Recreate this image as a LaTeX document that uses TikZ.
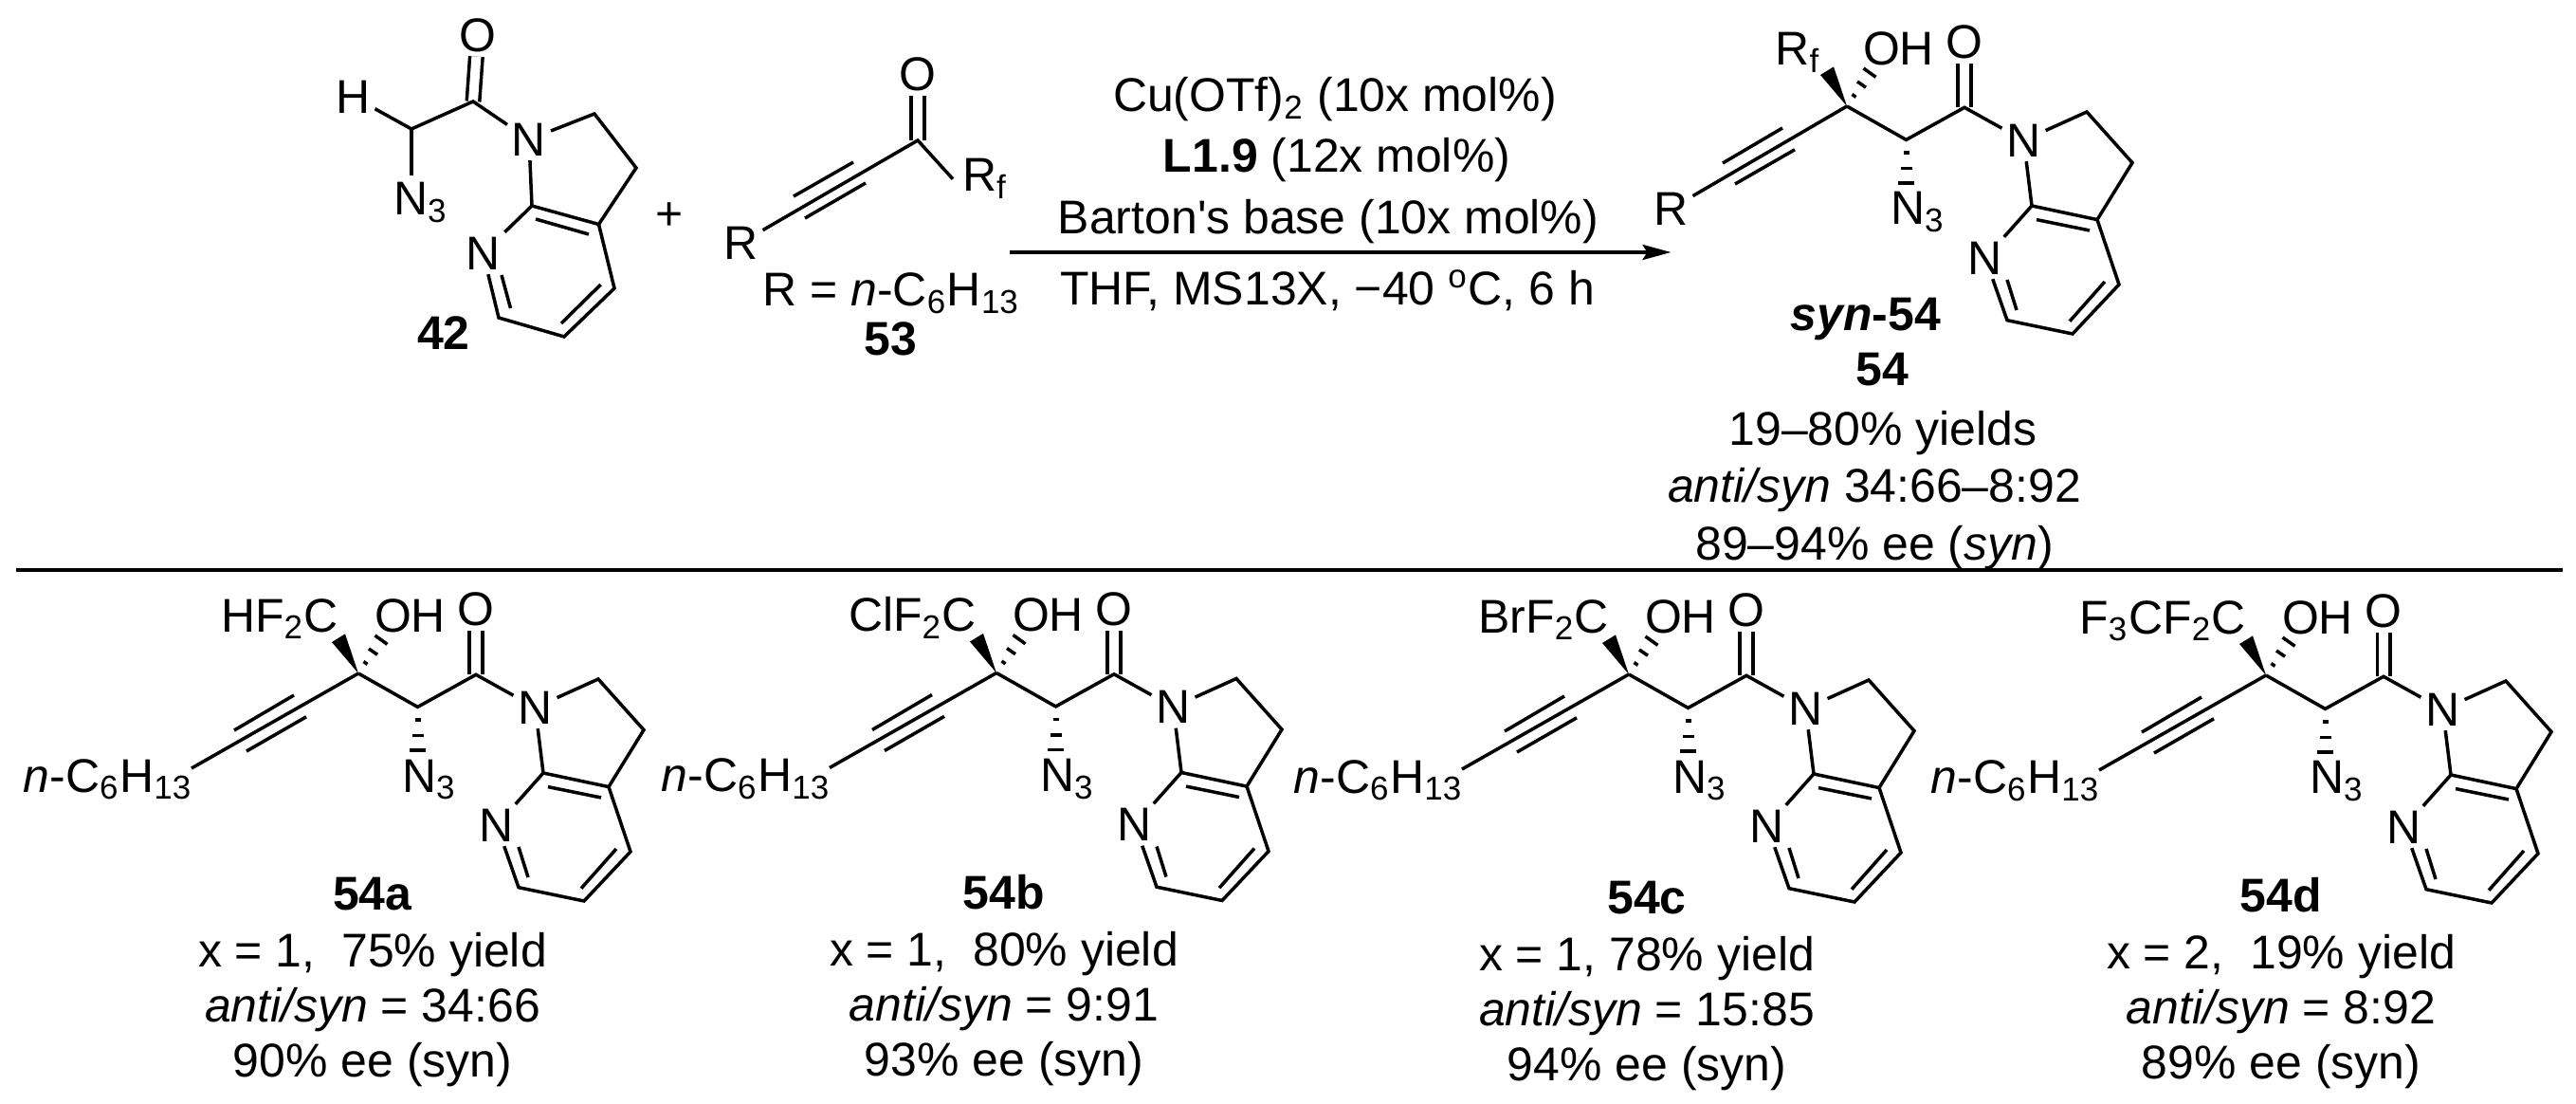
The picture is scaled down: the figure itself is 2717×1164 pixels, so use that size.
\documentclass[tikz,border=0pt]{standalone}
\usepackage{fontspec}
\setmainfont{Liberation Sans}
\usepackage{tikz}
\usetikzlibrary{arrows.meta}
\tikzset{
	atomlab/.style={inner sep=0.05cm,outer sep=0pt},
	txtlab/.style={inner sep=0pt,outer sep=0pt,anchor=base},
	dblbond/.style={double,double distance=0.1cm},
}
% the part shared by the product and 54a-d, drawn round the quaternary carbon
\newcommand{\prodcore}{%
	\coordinate (q) at (0,0);
	\coordinate (ch) at (62.5,35.4);
	\coordinate (ck) at (124,1.3);
	\coordinate (ca) at (253,6);
	\coordinate (cb) at (301,59.6);
	\coordinate (c3a) at (264,119.6);
	\coordinate (c7a) at (195,105);
	\coordinate (c6) at (169,225.7);
	\coordinate (c5) at (238,240);
	\coordinate (c4) at (287,188);
	\node[atomlab] (ox) at (124,-67.6) {O};
	\node[atomlab] (na) at (186.5,36) {N};
	\node[atomlab] (np) at (146,160) {N};
	\node[txtlab,anchor=base west] (naz) at (46,125) {N\textsubscript{3}};
	\node[txtlab,anchor=base west] (oh) at (17,-43.7) {OH};
	\draw[dblbond] (ck) -- (ox);
	\draw (q) -- (ch) -- (ck) -- (na);
	\draw (na) -- (ca) -- (cb) -- (c3a) -- (c7a) -- (na);
	\draw (c7a) -- (np);
	\draw (np) -- (c6) -- (c5) -- (c4) -- (c3a);
	\draw (200,119.6) -- (256,131);
	\draw (169,183) -- (179,215);
	\draw (272,185) -- (235,226.7);
	\draw (-68,23) -- (-131,60);
	\draw (-55,45.8) -- (-118,82);
	\fill (q) -- (-28,-33) -- (-14,-41.6) -- cycle;
	\foreach \ax/\ay/\bx/\by in {5.5/-12.5/9.5/-9.6,11/-26/20/-19.8,17.5/-40/30.5/-30.7}
		\draw (\ax,\ay) -- (\bx,\by);
	\foreach \wd/\yy in {3/49,6/65.5,8.5/81}
		\draw (62.5-\wd,\yy) -- (62.5+\wd,\yy);
}
\begin{document}
\begin{tikzpicture}[x=0.01cm,y=-0.01cm,line width=1pt,node font=\fontsize{14.2}{17}\selectfont]
	\useasboundingbox (0,0) rectangle (2717,1164);
	% azide 42
	\coordinate (caz) at (434,136);
	\coordinate (ckt) at (499,107);
	\coordinate (cat) at (627,120);
	\coordinate (cbt) at (671,177);
	\coordinate (c3t) at (631.5,236.5);
	\coordinate (c7t) at (561,217);
	\coordinate (c6t) at (526,335);
	\coordinate (c5t) at (595,355);
	\coordinate (c4t) at (648,304);
	\coordinate (naztop) at (434,185);
	\node[atomlab] (oxt) at (504,37) {O};
	\node[atomlab] (hyd) at (372.5,102) {H};
	\node[atomlab] (nat) at (558,147) {N};
	\node[atomlab] (npt) at (509.5,267) {N};
	\node[txtlab,anchor=base west] (nazt) at (415,227) {N\textsubscript{3}};
	\draw[dblbond] (ckt) -- (oxt);
	\draw (hyd) -- (caz) -- (ckt) -- (nat);
	\draw (caz) -- (naztop);
	\draw (nat) -- (cat) -- (cbt) -- (c3t) -- (c7t) -- (nat);
	\draw (c7t) -- (npt);
	\draw (npt) -- (c6t) -- (c5t) -- (c4t) -- (c3t);
	\draw (565,231) -- (621,247);
	\draw (529,290) -- (538.5,325);
	\draw (633.6,300) -- (592,341);
	\node[txtlab] (lab42) at (468,369) {\textbf{42}};
	\node[atomlab] (plus) at (706,228) {+};
	% ynone 53
	\coordinate (cky) at (968,148);
	\node[atomlab] (oxy) at (968,78) {O};
	\node[atomlab] (rgr) at (781.5,256) {R};
	\node[atomlab,anchor=base west,inner sep=0pt] (rfy) at (1015,202) {R\textsubscript{f}};
	\draw[dblbond] (cky) -- (oxy);
	\draw (rgr) -- (cky) -- ([xshift=-0.1cm]rfy.west);
	\draw (900,171) -- (837,207);
	\draw (913,193) -- (849,230);
	\node[txtlab] (rdef) at (940,323) {R = \textit{n}-C\textsubscript{6}H\textsubscript{13}};
	\node[txtlab] (lab53) at (939,375) {\textbf{53}};
	% conditions
	\coordinate (arrt) at (1064.5,266);
	\coordinate (arrh) at (1762.5,266);
	\draw[-{Stealth[length=0.3cm,width=0.16cm,inset=0.05cm]}] (arrt) -- (arrh);
	\node[txtlab] (cona) at (1408,118) {Cu(OTf)\textsubscript{2} (10x mol\%)};
	\node[txtlab] (conb) at (1410,182) {\textbf{L1.9} (12x mol\%)};
	\node[txtlab] (conc) at (1401,247) {Barton\textquotesingle s base (10x mol\%)};
	\node[txtlab] (cond) at (1400,322) {THF, MS13X, −40 \textsuperscript{o}C, 6 h};
	% product 54
	\begin{scope}[shift={(1948,112)},name prefix=t-]
		\prodcore
		\node[atomlab] (rgp) at (-185.5,108) {R};
		\draw (q) -- (rgp);
		\node[txtlab,anchor=base east] (rfp) at (-28,-43) {R\textsubscript{f}};
	\end{scope}
	\node[txtlab] (labs) at (1968,349) {\textbf{\textit{syn}-54}};
	\node[txtlab] (labp) at (1985,407) {\textbf{54}};
	\node[txtlab] (tya) at (1986,470) {19–80\% yields};
	\node[txtlab] (tyb) at (1977,530) {\textit{anti/syn} 34:66–8:92};
	\node[txtlab] (tyc) at (1977,591) {89–94\% ee (\textit{syn})};
	\coordinate (rulel) at (17,601);
	\coordinate (ruler) at (2703,601);
	\draw (rulel) -- (ruler);
	% scope 54a-d
	\foreach \nm/\qx/\qy/\rfl/\lx/\ly/\txa/\txb/\txc in {
		a/378/710/{HF\textsubscript{2}C}/393/959/{x = 1,\ \ 75\% yield}/{34:66}/{90\% ee (syn)},
		b/1051/709.5/{ClF\textsubscript{2}C}/1059/958/{x = 1,\ \ 80\% yield}/{9:91}/{93\% ee (syn)},
		c/1718/711/{BrF\textsubscript{2}C}/1737/963/{x = 1, 78\% yield}/{15:85}/{94\% ee (syn)},
		d/2390/712/{F\textsubscript{3}CF\textsubscript{2}C}/2406/961/{x = 2,\ \ 19\% yield}/{8:92}/{89\% ee (syn)}}{
		\begin{scope}[shift={(\qx,\qy)},name prefix=\nm-]
			\prodcore
			\coordinate (tail) at (-176,100);
			\draw (q) -- (tail);
			\node[txtlab,anchor=base east] (hex) at (-175,125) {\textit{n}-C\textsubscript{6}H\textsubscript{13}};
			\node[txtlab,anchor=base east] (rfx) at (-21,-43.7) {\rfl};
		\end{scope}
		\node[txtlab] (lab\nm) at (\lx,\ly) {\textbf{54\nm}};
		\node[txtlab] (yld\nm) at (\lx,\ly+60) {\txa};
		\node[txtlab] (rat\nm) at (\lx,\ly+118) {\textit{anti/syn} = \txb};
		\node[txtlab] (ee\nm) at (\lx,\ly+176) {\txc};
	}
\end{tikzpicture}
\end{document}
